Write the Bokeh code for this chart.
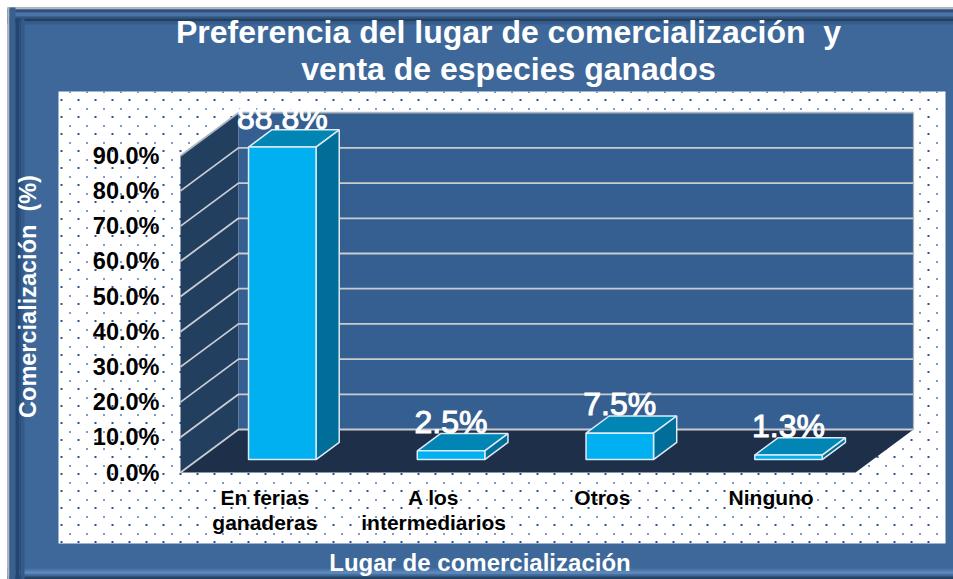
from bokeh.plotting import figure
from bokeh.models import Range1d
from bokeh.core.properties import value
from bokeh.embed import file_html
from bokeh.resources import INLINE
import numpy as np

title_lines = ["Preferencia del lugar de comercialización \u00a0y", "venta de especies ganados"]
categories = ["En ferias\nganaderas", "A los\nintermediarios", "Otros", "Ninguno"]
values = [88.8, 2.5, 7.5, 1.3]
bar_labels = ["88.8%", "2.5%", "7.5%", "1.3%"]
ticks = [0, 10, 20, 30, 40, 50, 60, 70, 80, 90]
tick_labels = ["0.0%", "10.0%", "20.0%", "30.0%", "40.0%", "50.0%", "60.0%", "70.0%", "80.0%", "90.0%"]
y_title = "Comercialización \u00a0(%)"
x_title = "Lugar de comercialización"

FONT = value("Liberation Sans")
W, H = 953, 579
LEFT, TOP = 0, 0
X0, Y0, XU, YU = 180.0, 472.0, 168.75, 3.52
DX, DY = 58 / XU, 43 / YU
Z1, Z2, BW = 0.3, 0.7, 0.2

p = figure(width=W, height=H, toolbar_location=None, tools="", output_backend="svg",
           x_range=Range1d((LEFT - X0) / XU, (LEFT + W - X0) / XU),
           y_range=Range1d((Y0 - TOP - H) / YU, (Y0 - TOP) / YU),
           x_axis_location=None, y_axis_location=None, min_border=0, outline_line_color=None)
p.grid.visible = False
p.background_fill_color = "#FFFFFF"
p.border_fill_color = None
p.extra_x_ranges["px"] = Range1d(LEFT, LEFT + W)
p.extra_y_ranges["px"] = Range1d(TOP + H, TOP)
PX = dict(x_range_name="px", y_range_name="px")


def band(l, r, t, b, c):
    p.quad(left=l, right=r, top=t, bottom=b, fill_color=c, line_color=None, **PX)


# picture frame
band(7, 953, 7, 579, "#3D6899")
for y, h, c in [(7, 2, "#B4B8BE"), (9, 3, "#2D507C"), (12, 4, "#4B74A6"), (16, 2, "#35577F"), (18, 3, "#223F60"), (21, 3, "#355C8C")]:
    band(7, 953, y, y + h, c)
for y, h, c in [(568, 2, "#4A73A6"), (570, 4, "#5B86BA"), (574, 2, "#3F6898"), (576, 3, "#244465")]:
    band(7, 953, y, y + h, c)
for l, r, c in [(7, 9, "#B4B8BE"), (9, 15, "#3A6090"), (15, 19, "#24456F"), (19, 21, "#2B4F7C"), (21, 24, "#34598A")]:
    band(l, r, 7 if l < 15 else 18, 579, c)

# dotted panel
band(58, 945, 91, 543, "#FFFFFF")
xa, ya = np.meshgrid(np.arange(61, 945, 17), np.arange(99.5, 543, 17))
xb, yb = np.meshgrid(np.arange(69.5, 945, 17), np.arange(91.5, 543, 17))
p.scatter(xa.ravel(), ya.ravel(), marker="square", size=2, fill_color="#2A5595", line_color=None, **PX)
p.scatter(xb.ravel(), yb.ravel(), marker="square", size=2, fill_color="#7E9CC8", line_color=None, **PX)


def proj(x, y, z):
    return x + z * DX, y + z * DY


def face(pts, fill, line=None, lw=1.0):
    q = [proj(*t) for t in pts]
    p.patch([a for a, _ in q], [b for _, b in q], fill_color=fill, line_color=line, line_width=lw)


n = len(categories)
top = ticks[-1]
face([(0, 0, 0), (0, top, 0), (0, top, 1), (0, 0, 1)], "#223F60")
face([(0, 0, 1), (n, 0, 1), (n, top, 1), (0, top, 1)], "#365F91")
face([(0, 0, 0), (n, 0, 0), (n, 0, 1), (0, 0, 1)], "#1D2F49")

for t in ticks:
    q = [proj(0, t, 0), proj(0, t, 1), proj(n, t, 1)]
    col = "#C9CCD0" if t < top else "#AEB6C0"
    p.line([a for a, _ in q], [b for _, b in q], line_color=col, line_width=1.8)
q = [proj(n, top, 1), proj(n, 0, 1)]
p.line([a for a, _ in q], [b for _, b in q], line_color="#AEB6C0", line_width=1.2)

for i, v in enumerate(values):
    a, b = i + 0.5 - BW, i + 0.5 + BW
    edge = "#DCEBF5"
    face([(a, v, Z1), (b, v, Z1), (b, v, Z2), (a, v, Z2)], "#0085B4", edge, 1.5)
    face([(b, 0, Z1), (b, v, Z1), (b, v, Z2), (b, 0, Z2)], "#006E99", edge, 1.5)
    face([(a, 0, Z1), (b, 0, Z1), (b, v, Z1), (a, v, Z1)], "#00B0F0", edge, 1.5)

# value labels
lx = [proj(i + 0.5, v, Z1)[0] for i, v in enumerate(values)]
ly = [proj(i + 0.5, v, Z1)[1] + 29 / YU for i, v in enumerate(values)]
p.text(lx, ly, text=bar_labels, text_color="#FFFFFF", text_font=FONT, text_font_size="32px",
       text_font_style="normal", text_align="center", text_baseline="middle", text_outline_color="#FFFFFF")

# ticks (label column stays at the original page rows)
p.text([-21 / XU] * len(ticks), ticks, text=tick_labels, text_color="#000000", text_font=FONT,
       text_font_size="23.5px", text_font_style="bold", text_align="right", text_baseline="middle")

# categories
p.text([i + 0.5 for i in range(n)], [-(485 - Y0) / YU] * n, text=categories, text_color="#000000",
       text_font=FONT, text_font_size="21px", text_font_style="bold", text_align="center",
       text_baseline="top", text_line_height=1.12)

# titles
p.text([508, 508], [31, 68], text=title_lines, text_color="#FFFFFF", text_font=FONT, text_font_size="32px",
       text_font_style="bold", text_align="center", text_baseline="middle", **PX)
p.text([479.5], [562], text=[x_title], text_color="#FFFFFF", text_font=FONT, text_font_size="24px",
       text_font_style="bold", text_align="center", text_baseline="middle", **PX)
p.text([27], [296], text=[y_title], angle=np.pi / 2, text_color="#FFFFFF", text_font=FONT, text_font_size="23.5px",
       text_font_style="bold", text_align="center", text_baseline="middle", **PX)

open("out.html", "w").write(file_html(p, INLINE))
